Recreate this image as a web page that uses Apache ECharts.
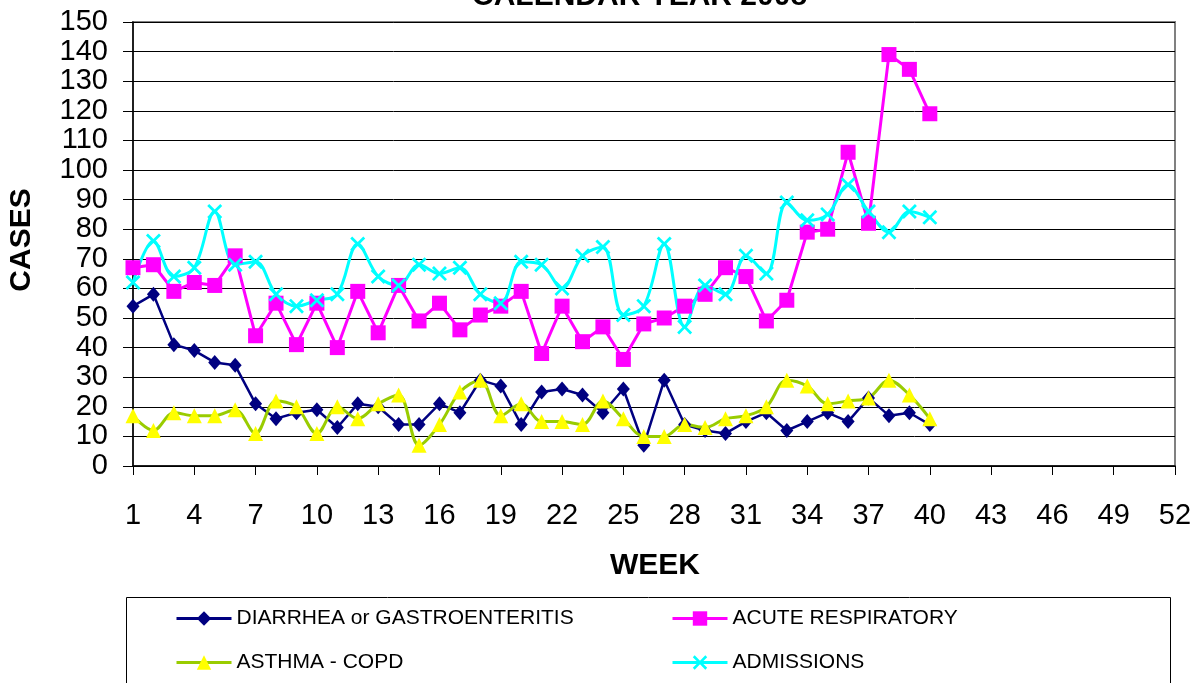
<!DOCTYPE html>
<html>
<head>
<meta charset="utf-8">
<script src="https://cdn.jsdelivr.net/npm/echarts@6/dist/echarts.min.js"></script>
<style>
html,body{margin:0;padding:0;background:#fff;}
#c{width:1200px;height:683px;}
</style>
</head>
<body>
<div id="c"></div>
<script>
var weeks = ['1','2','3','4','5','6','7','8','9','10','11','12','13','14','15','16','17','18','19','20','21','22','23','24','25','26','27','28','29','30','31','32','33','34','35','36','37','38','39','40','41','42','43','44','45','46','47','48','49','50','51','52'];
var diarrhea = [54,58,41,39,35,34,21,16,18,19,13,21,20,14,14,21,18,29,27,14,25,26,24,18,26,7,29,14,12,11,15,18,12,15,18,15,23,17,18,14];
var acuteResp = [67,68,59,62,61,71,44,55,41,55,40,59,45,61,49,55,46,51,54,59,38,54,42,47,36,48,50,54,58,67,64,49,56,79,80,106,82,139,134,119];
var asthma = [17,12,18,17,17,19,11,22,20,11,20,16,21,24,7,14,25,29,17,21,15,15,14,22,16,10,10,14,13,16,17,20,29,27,21,22,23,29,24,16];
var admissions = [62,76,64,67,86,68,69,58,54,56,58,75,64,61,68,65,67,58,55,69,68,60,71,74,51,54,75,47,61,58,71,65,89,83,85,95,86,79,86,84];
var names = ['DIARRHEA or GASTROENTERITIS','ACUTE RESPIRATORY','ASTHMA - COPD','ADMISSIONS'];

var FONT = '"Liberation Sans", Arial, sans-serif';
var xPath = 'path://M0,1.3L1.3,0L5,3.7L8.7,0L10,1.3L6.3,5L10,8.7L8.7,10L5,6.3L1.3,10L0,8.7L3.7,5Z';

function legendAt(name, left, top) {
  return {
    data: [name], left: left, top: top, orient: 'horizontal', padding: 0,
    itemWidth: 55, itemHeight: 18, itemGap: 0, selectedMode: false,
    lineStyle: {width: 3},
    textStyle: {fontSize: 21, color: '#000', fontFamily: FONT}
  };
}

var chart = echarts.init(document.getElementById('c'), null, {renderer: 'canvas'});
chart.setOption({
  animation: false,
  backgroundColor: '#fff',
  title: {
    text: 'CALENDAR YEAR 2008', left: 467, top: -23,
    textStyle: {fontSize: 30, fontWeight: 'bold', color: '#000', fontFamily: FONT}
  },
  grid: {left: 133, right: 25, top: 22, bottom: 217, show: true, borderColor: '#808080', borderWidth: 2, backgroundColor: 'transparent'},
  legend: [
    legendAt(names[0], 175, 608),
    legendAt(names[1], 671, 608),
    legendAt(names[2], 175, 652),
    legendAt(names[3], 671, 652)
  ],
  xAxis: {
    type: 'category', data: weeks, boundaryGap: false,
    axisLine: {lineStyle: {color: '#000', width: 1.5}},
    axisTick: {interval: 2, length: 9, lineStyle: {color: '#000'}},
    axisLabel: {interval: 2, fontSize: 29, color: '#000', fontFamily: FONT, margin: 35},
    splitLine: {show: false}
  },
  yAxis: {
    type: 'value', min: 0, max: 150, interval: 10,
    axisLine: {show: true, lineStyle: {color: '#000', width: 1.5}},
    axisTick: {show: true, length: 10, lineStyle: {color: '#000'}},
    axisLabel: {fontSize: 29, color: '#000', fontFamily: FONT, margin: 25},
    splitLine: {lineStyle: {color: '#000', width: 1}}
  },
  graphic: [
    {type: 'text', x: 22, y: 240, rotation: Math.PI / 2,
     style: {text: 'CASES', font: 'bold 30px ' + FONT, fill: '#000', textAlign: 'center', textVerticalAlign: 'middle'}},
    {type: 'text', x: 655, y: 566,
     style: {text: 'WEEK', font: 'bold 30px ' + FONT, fill: '#000', textAlign: 'center', textVerticalAlign: 'middle'}},
    {type: 'rect', shape: {x: 126.5, y: 597.5, width: 1044, height: 120},
     style: {fill: 'none', stroke: '#000', lineWidth: 1}, z: -1}
  ],
  series: [
    {name: names[0], type: 'line', data: diarrhea, symbol: 'diamond', symbolSize: [13, 15], showAllSymbol: true,
     lineStyle: {color: '#000080', width: 2.5}, itemStyle: {color: '#000080'}},
    {name: names[1], type: 'line', data: acuteResp, symbol: 'rect', symbolSize: 15, showAllSymbol: true,
     lineStyle: {color: '#FF00FF', width: 3}, itemStyle: {color: '#FF00FF'}},
    {name: names[2], type: 'line', data: asthma, symbol: 'triangle', symbolSize: 15, smooth: 0.35, showAllSymbol: true,
     lineStyle: {color: '#99CC00', width: 3}, itemStyle: {color: '#FFFF00'}},
    {name: names[3], type: 'line', data: admissions, symbol: xPath, symbolSize: 15, smooth: 0.35, showAllSymbol: true,
     lineStyle: {color: '#00FFFF', width: 3}, itemStyle: {color: '#00FFFF'}}
  ]
});
</script>
</body>
</html>
